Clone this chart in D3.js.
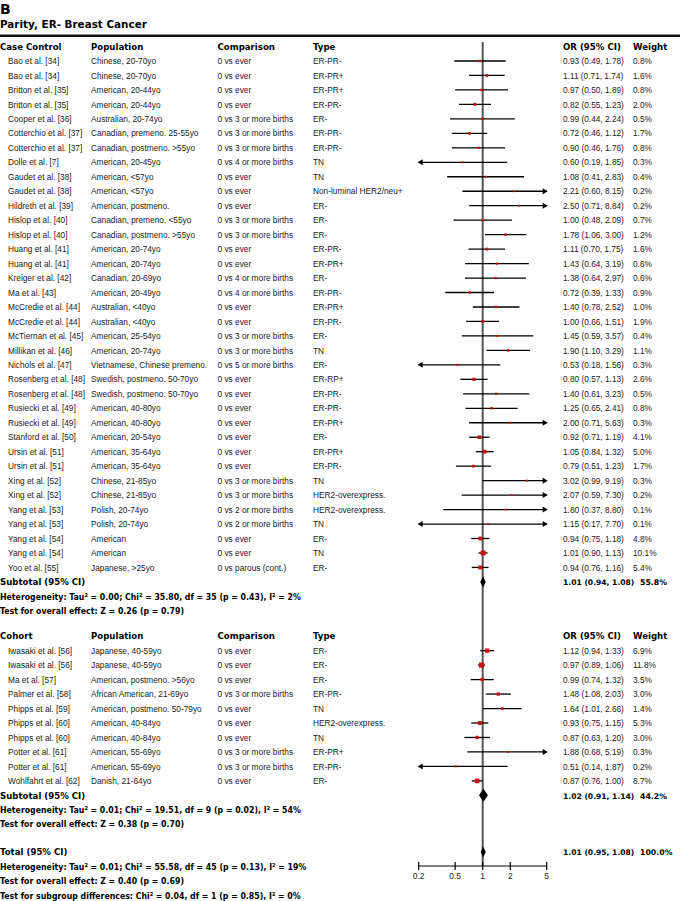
<!DOCTYPE html>
<html><head><meta charset="utf-8">
<script src="https://cdn.jsdelivr.net/npm/d3@7"></script>
<style>
html,body{margin:0;padding:0;background:#fff;}
svg{display:block;}
.r{font-family:"Liberation Sans",Arial,sans-serif;font-size:8.3px;fill:#1a1a1a;}
.b{font-family:"DejaVu Sans",Verdana,sans-serif;font-weight:bold;font-size:8.6px;fill:#000;}
</style></head>
<body>
<svg id="c" width="680" height="901"></svg>
<script>
// ---- data: case-control studies ----
const ccStudy = ["Bao et al. [34]","Bao et al. [34]","Britton et al. [35]","Britton et al. [35]","Cooper et al. [36]","Cotterchio et al. [37]","Cotterchio et al. [37]","Dolle et al. [7]","Gaudet et al. [38]","Gaudet et al. [38]","Hildreth et al. [39]","Hislop et al. [40]","Hislop et al. [40]","Huang et al. [41]","Huang et al. [41]","Kreiger et al. [42]","Ma et al. [43]","McCredie et al. [44]","McCredie et al. [44]","McTiernan et al. [45]","Millikan et al. [46]","Nichols et al. [47]","Rosenberg et al. [48]","Rosenberg et al. [48]","Rusiecki et al. [49]","Rusiecki et al. [49]","Stanford et al. [50]","Ursin et al. [51]","Ursin et al. [51]","Xing et al. [52]","Xing et al. [52]","Yang et al. [53]","Yang et al. [53]","Yang et al. [54]","Yang et al. [54]","Yoo et al. [55]"];
const ccPopulation = ["Chinese, 20-70yo","Chinese, 20-70yo","American, 20-44yo","American, 20-44yo","Australian, 20-74yo","Canadian, premeno. 25-55yo","Canadian, postmeno. >55yo","American, 20-45yo","American, <57yo","American, <57yo","American, postmeno.","Canadian, premeno. <55yo","Canadian, postmeno. >55yo","American, 20-74yo","American, 20-74yo","Canadian, 20-69yo","American, 20-49yo","Australian, <40yo","Australian, <40yo","American, 25-54yo","American, 20-74yo","Vietnamese, Chinese premeno.","Swedish, postmeno. 50-70yo","Swedish, postmeno. 50-70yo","American, 40-80yo","American, 40-80yo","American, 20-54yo","American, 35-64yo","American, 35-64yo","Chinese, 21-85yo","Chinese, 21-85yo","Polish, 20-74yo","Polish, 20-74yo","American","American","Japanese, >25yo"];
const ccComparison = ["0 vs ever","0 vs ever","0 vs ever","0 vs ever","0 vs 3 or more births","0 vs 3 or more births","0 vs 3 or more births","0 vs 4 or more births","0 vs ever","0 vs ever","0 vs ever","0 vs 3 or more births","0 vs 3 or more births","0 vs ever","0 vs ever","0 vs 4 or more births","0 vs 4 or more births","0 vs ever","0 vs ever","0 vs 3 or more births","0 vs 3 or more births","0 vs 5 or more births","0 vs ever","0 vs ever","0 vs ever","0 vs ever","0 vs ever","0 vs ever","0 vs ever","0 vs 3 or more births","0 vs 3 or more births","0 vs 2 or more births","0 vs 2 or more births","0 vs ever","0 vs ever","0 vs parous (cont.)"];
const ccType = ["ER-PR-","ER-PR+","ER-PR+","ER-PR-","ER-","ER-PR-","ER-PR-","TN","TN","Non-luminal HER2/neu+","ER-","ER-","ER-","ER-PR-","ER-PR+","ER-","ER-PR-","ER-PR+","ER-PR-","ER-","TN","ER-","ER-RP+","ER-PR-","ER-PR-","ER-PR+","ER-","ER-PR+","ER-PR-","TN","HER2-overexpress.","HER2-overexpress.","TN","ER-","TN","ER-"];
const ccOR = [0.93,1.11,0.97,0.82,0.99,0.72,0.90,0.60,1.08,2.21,2.50,1.00,1.78,1.11,1.43,1.38,0.72,1.40,1.00,1.45,1.90,0.53,0.80,1.40,1.25,2.00,0.92,1.05,0.79,3.02,2.07,1.80,1.15,0.94,1.01,0.94];
const ccLow = [0.49,0.71,0.50,0.55,0.44,0.46,0.46,0.19,0.41,0.60,0.71,0.48,1.06,0.70,0.64,0.64,0.39,0.78,0.66,0.59,1.10,0.18,0.57,0.61,0.65,0.71,0.71,0.84,0.51,0.99,0.59,0.37,0.17,0.75,0.90,0.76];
const ccHigh = [1.78,1.74,1.89,1.23,2.24,1.12,1.76,1.85,2.83,8.15,8.84,2.09,3.00,1.75,3.19,2.97,1.33,2.52,1.51,3.57,3.29,1.56,1.13,3.23,2.41,5.63,1.19,1.32,1.23,9.19,7.30,8.80,7.70,1.18,1.13,1.16];
const ccWeight = [0.8,1.6,0.8,2.0,0.5,1.7,0.8,0.3,0.4,0.2,0.2,0.7,1.2,1.6,0.6,0.6,0.9,1.0,1.9,0.4,1.1,0.3,2.6,0.5,0.8,0.3,4.1,5.0,1.7,0.3,0.2,0.1,0.1,4.8,10.1,5.4];

// ---- data: cohort studies ----
const coStudy = ["Iwasaki et al. [56]","Iwasaki et al. [56]","Ma et al. [57]","Palmer et al. [58]","Phipps et al. [59]","Phipps et al. [60]","Phipps et al. [60]","Potter et al. [61]","Potter et al. [61]","Wohlfahrt et al. [62]"];
const coPopulation = ["Japanese, 40-59yo","Japanese, 40-59yo","American, postmeno. >56yo","African American, 21-69yo","American, postmeno. 50-79yo","American, 40-84yo","American, 40-84yo","American, 55-69yo","American, 55-69yo","Danish, 21-64yo"];
const coComparison = ["0 vs ever","0 vs ever","0 vs ever","0 vs 3 or more births","0 vs ever","0 vs ever","0 vs ever","0 vs 3 or more births","0 vs 3 or more births","0 vs ever"];
const coType = ["ER-","ER-","ER-","ER-PR-","TN","HER2-overexpress.","TN","ER-PR+","ER-PR-","ER-"];
const coOR = [1.12,0.97,0.99,1.48,1.64,0.93,0.87,1.88,0.51,0.87];
const coLow = [0.94,0.89,0.74,1.08,1.01,0.75,0.63,0.68,0.14,0.76];
const coHigh = [1.33,1.06,1.32,2.03,2.66,1.15,1.20,5.19,1.87,1.00];
const coWeight = [6.9,11.8,3.5,3.0,1.4,5.3,3.0,0.3,0.2,8.7];

// ---- pooled estimates ----
const pooledLabel = ["Subtotal (95% CI)","Subtotal (95% CI)","Total (95% CI)"];
const pooledOR = [1.01,1.02,1.01];
const pooledLow = [0.94,0.91,0.95];
const pooledHigh = [1.08,1.14,1.08];
const pooledWeight = ["55.8%","44.2%","100.0%"];
const ccStats = ["Heterogeneity: Tau\u00b2 = 0.00; Chi\u00b2 = 35.80, df = 35 (p = 0.43), I\u00b2 = 2%","Test for overall effect: Z = 0.26 (p = 0.79)"];
const coStats = ["Heterogeneity: Tau\u00b2 = 0.01; Chi\u00b2 = 19.51, df = 9 (p = 0.02), I\u00b2 = 54%","Test for overall effect: Z = 0.38 (p = 0.70)"];
const totStats = ["Heterogeneity: Tau\u00b2 = 0.01; Chi\u00b2 = 55.58, df = 45 (p = 0.13), I\u00b2 = 19%","Test for overall effect: Z = 0.40 (p = 0.69)","Test for subgroup differences: Chi\u00b2 = 0.04, df = 1 (p = 0.85), I\u00b2 = 0%"];
const headers = ["Population","Comparison","Type","OR (95% CI)","Weight"];
const axisTicks = [0.2,0.5,1,2,5];
const panelLetter = "B";
const title = "Parity, ER- Breast Cancer";

// ---- layout ----
const svg = d3.select("#c");
const x = d3.scaleLog().domain([0.2,5]).range([418.7,546.7]);
const rowY = d3.scaleLinear().domain([0,1]).range([61,75.47]); // row index -> centre y
const col = {name:0, study:8, pop:91, comp:217.5, type:313, or:563, wt:633, wtBold:640};
const fmt = d3.format(".2f");
const orText = (o,l,h)=>`${fmt(o)} (${fmt(l)}, ${fmt(h)})`;

function boldNarrow(sel, f){
  const w = sel.node().getComputedTextLength();
  sel.attr("textLength", w*f).attr("lengthAdjust","spacingAndGlyphs");
  return sel;
}

svg.append("text").attr("class","b").attr("x",0).attr("y",13.5).style("font-size","14px").text(panelLetter);
svg.append("text").attr("class","b").attr("x",0).attr("y",27.5).style("font-size","10.4px").text(title);
svg.append("line").attr("x1",0).attr("x2",680).attr("y1",35.8).attr("y2",35.8).attr("stroke","#111").attr("stroke-width",2.4);

// vertical null line
svg.append("line").attr("x1",x(1)).attr("x2",x(1)).attr("y1",42).attr("y2",866)
  .attr("stroke","#555").attr("stroke-width",2);

function header(idx, first){
  const y = rowY(idx)+3.2;
  svg.append("text").attr("class","b").attr("x",col.name).attr("y",y).text(first);
  [col.pop,col.comp,col.type,col.or,col.wt].forEach((cx,i)=>
    svg.append("text").attr("class","b").attr("x",cx).attr("y",y).text(headers[i]));
}

function drawStudies(start, study, pop, comp, type, or, lo, hi, wt){
  const g = svg.append("g");
  study.forEach((s,i)=>{
    const cy = rowY(start+i), ty = cy+3.1;
    g.append("text").attr("class","r").attr("x",col.study).attr("y",ty).text(s);
    g.append("text").attr("class","r").attr("x",col.pop).attr("y",ty).text(pop[i]);
    g.append("text").attr("class","r").attr("x",col.comp).attr("y",ty).text(comp[i]);
    g.append("text").attr("class","r").attr("x",col.type).attr("y",ty).text(type[i]);
    g.append("text").attr("class","r").attr("x",col.or).attr("y",ty).text(orText(or[i],lo[i],hi[i]));
    g.append("text").attr("class","r").attr("x",col.wt).attr("y",ty).text(wt[i].toFixed(1)+"%");
    const [d0,d1] = x.domain();
    const x0 = x(Math.max(lo[i],d0)), x1 = x(Math.min(hi[i],d1));
    g.append("line").attr("x1",x0).attr("x2",x1).attr("y1",cy).attr("y2",cy)
      .attr("stroke","#000").attr("stroke-width",1.3);
    if (hi[i] > d1) g.append("path").attr("d",`M${x1+1},${cy} l-5,-3 l0,6 z`).attr("fill","#000");
    if (lo[i] < d0) g.append("path").attr("d",`M${x0-1},${cy} l5,-3 l0,6 z`).attr("fill","#000");
    const side = 1.4 + 1.1*Math.sqrt(wt[i]);
    g.append("rect").attr("x",x(or[i])-side/2).attr("y",cy-side/2).attr("width",side).attr("height",side)
      .attr("fill","#cc1111");
  });
}

function pooled(idx, k, h){
  const cy = rowY(idx), ty = cy+3.2;
  svg.append("text").attr("class","b").attr("x",col.name).attr("y",ty).text(pooledLabel[k]);
  svg.append("text").attr("class","b").attr("x",col.or).attr("y",ty).style("font-size","7.6px")
    .text(orText(pooledOR[k],pooledLow[k],pooledHigh[k]));
  svg.append("text").attr("class","b").attr("x",col.wtBold).attr("y",ty).style("font-size","7.8px").text(pooledWeight[k]);
  const xl = x(pooledLow[k]), xm = x(pooledOR[k]), xh = x(pooledHigh[k]);
  svg.append("path").attr("d",`M${xl},${cy} L${xm},${cy-h/2} L${xh},${cy} L${xm},${cy+h/2} Z`).attr("fill","#000");
}
function stats(idx, arr){
  arr.forEach((s,i)=> boldNarrow(svg.append("text").attr("class","b").attr("x",col.name).attr("y",rowY(idx+i)+3.2).text(s), 0.91));
}

// case-control block
header(-1,"Case Control");
drawStudies(0, ccStudy, ccPopulation, ccComparison, ccType, ccOR, ccLow, ccHigh, ccWeight);
pooled(ccStudy.length, 0, 11);
stats(ccStudy.length+1, ccStats);

// cohort block
const coStart = 40.75;
header(coStart-1,"Cohort");
drawStudies(coStart, coStudy, coPopulation, coComparison, coType, coOR, coLow, coHigh, coWeight);
pooled(coStart+coStudy.length, 1, 13);
stats(coStart+coStudy.length+1, coStats);

// total
const totIdx = 54.66;
pooled(totIdx, 2, 11);
stats(totIdx+1, totStats);

// axis
const axisY = 866;
const ax = svg.append("g").attr("transform",`translate(0,${axisY})`);
ax.append("line").attr("x1",x(0.2)).attr("x2",x(5)).attr("stroke","#000").attr("stroke-width",1.2);
axisTicks.forEach(t=>{
  ax.append("line").attr("x1",x(t)).attr("x2",x(t)).attr("y1",-4).attr("y2",4).attr("stroke","#000").attr("stroke-width",1.2);
  ax.append("text").attr("x",x(t)).attr("y",12.5).attr("text-anchor","middle")
    .style("font-family","'Liberation Sans Narrow','Liberation Sans',sans-serif").style("font-size","8.5px").attr("fill","#222").text(t);
});
</script>
</body></html>
